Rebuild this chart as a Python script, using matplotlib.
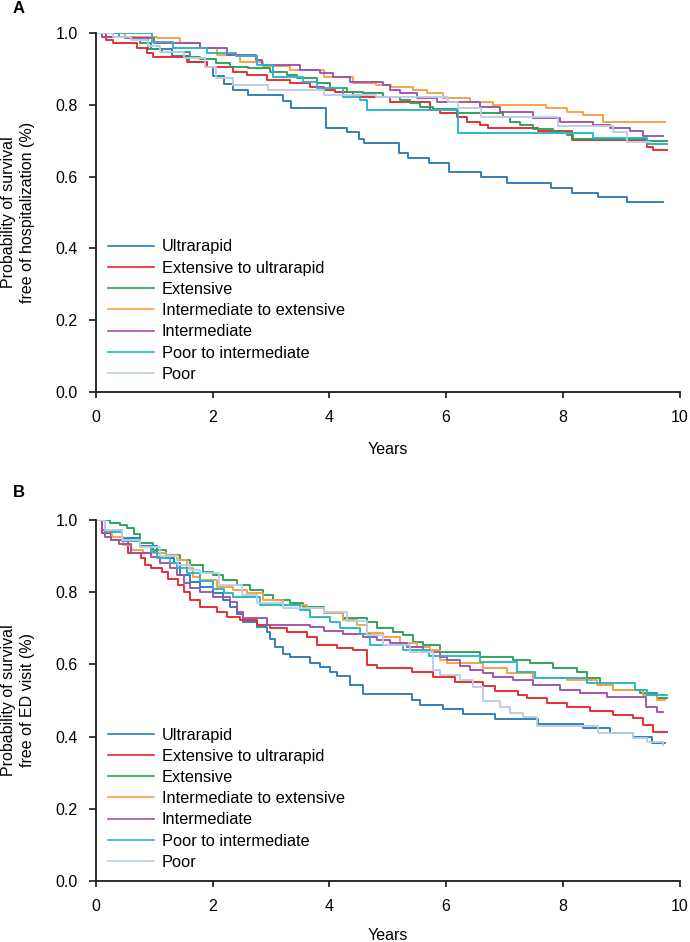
import numpy as np
import matplotlib
matplotlib.use('Agg')
import matplotlib.pyplot as plt

plt.rcParams['font.family'] = ['Liberation Sans', 'DejaVu Sans']

labels = ['Ultrarapid', 'Extensive to ultrarapid', 'Extensive',
          'Intermediate to extensive', 'Intermediate', 'Poor to intermediate', 'Poor']
colors = ['#2b7bba', '#e8282b', '#2ca05a', '#f7a040', '#a050b0', '#26b5c6', '#b9cde8']

# Panel A: survival free of hospitalization
A_ultra_t = [0, 0.1, 0.9, 1.3, 1.6, 1.9, 2.0, 2.2, 2.35, 2.6, 3.2, 3.35, 3.95, 4.3, 4.5, 4.6, 5.2, 5.35, 5.7, 6.05, 6.6, 7.05, 7.8, 8.15, 8.6, 9.1, 9.72]
A_ultra_s = [1.0, 0.99, 0.955, 0.935, 0.92, 0.905, 0.88, 0.857, 0.84, 0.828, 0.81, 0.79, 0.736, 0.725, 0.705, 0.694, 0.667, 0.653, 0.639, 0.614, 0.6, 0.583, 0.569, 0.555, 0.544, 0.528, 0.528]
A_extultra_t = [0, 0.18, 0.3, 0.7, 0.87, 0.98, 1.56, 1.9, 2.35, 2.59, 2.93, 3.32, 3.67, 3.9, 4.1, 4.4, 4.52, 5.04, 5.72, 5.9, 6.18, 6.36, 6.58, 6.72, 7.57, 8.16, 9.44, 9.55, 9.78]
A_extultra_s = [1.0, 0.98, 0.972, 0.958, 0.944, 0.933, 0.92, 0.906, 0.892, 0.883, 0.869, 0.861, 0.85, 0.842, 0.836, 0.828, 0.822, 0.808, 0.786, 0.778, 0.767, 0.753, 0.744, 0.736, 0.728, 0.703, 0.681, 0.675, 0.675]
A_ext_t = [0, 0.4, 0.75, 0.95, 1.13, 1.61, 1.78, 2.05, 2.3, 2.6, 2.98, 3.27, 3.44, 3.79, 4.01, 4.3, 4.58, 4.92, 5.21, 5.38, 5.55, 5.78, 6.19, 6.98, 7.1, 7.27, 7.49, 7.83, 8.07, 8.18, 9.44, 9.78]
A_ext_s = [1.0, 0.99, 0.972, 0.955, 0.947, 0.933, 0.928, 0.917, 0.906, 0.903, 0.892, 0.883, 0.875, 0.861, 0.847, 0.836, 0.833, 0.822, 0.814, 0.806, 0.794, 0.789, 0.778, 0.767, 0.753, 0.744, 0.733, 0.725, 0.717, 0.706, 0.698, 0.698]
A_intext_t = [0, 0.5, 1.05, 1.44, 1.78, 2.07, 2.47, 2.86, 3.32, 3.9, 4.4, 4.8, 5.05, 5.43, 5.67, 5.95, 6.41, 6.8, 7.72, 8.07, 8.35, 8.69, 9.75]
A_intext_s = [1.0, 0.99, 0.986, 0.972, 0.958, 0.939, 0.92, 0.908, 0.897, 0.878, 0.861, 0.856, 0.85, 0.842, 0.833, 0.819, 0.808, 0.8, 0.792, 0.78, 0.772, 0.752, 0.752]
A_int_t = [0, 0.1, 0.5, 1.0, 1.78, 2.24, 2.75, 2.85, 3.5, 3.84, 4.06, 4.35, 4.92, 5.04, 5.21, 5.5, 5.84, 6.58, 6.92, 7.49, 7.95, 8.52, 8.81, 9.15, 9.37, 9.72]
A_int_s = [1.0, 0.99, 0.985, 0.972, 0.958, 0.939, 0.925, 0.911, 0.897, 0.889, 0.878, 0.864, 0.856, 0.842, 0.833, 0.819, 0.808, 0.794, 0.781, 0.764, 0.753, 0.744, 0.736, 0.728, 0.714, 0.714]
A_poorint_t = [0, 0.96, 1.32, 1.9, 2.4, 2.76, 3.04, 3.55, 3.79, 4.23, 4.52, 4.64, 6.2, 8.52, 9.45, 9.78]
A_poorint_s = [1.0, 0.975, 0.958, 0.944, 0.935, 0.911, 0.878, 0.864, 0.847, 0.822, 0.814, 0.786, 0.722, 0.708, 0.69, 0.69]
A_poor_t = [0, 0.3, 0.6, 0.9, 1.1, 1.5, 1.87, 2.05, 2.35, 2.95, 3.9, 4.8, 6.03, 6.2, 6.6, 7.92, 8.86, 9.1, 9.5]
A_poor_s = [1.0, 0.99, 0.98, 0.965, 0.947, 0.93, 0.906, 0.875, 0.856, 0.842, 0.828, 0.822, 0.808, 0.79, 0.767, 0.742, 0.725, 0.697, 0.697]

# Panel B: survival free of ED visit
B_ultra_t = [0, 0.1, 0.44, 0.75, 1.04, 1.2, 1.33, 1.44, 1.61, 1.78, 2.0, 2.18, 2.3, 2.41, 2.52, 2.76, 2.93, 2.98, 3.07, 3.2, 3.32, 3.67, 3.84, 4.01, 4.13, 4.35, 4.58, 5.42, 5.55, 5.95, 6.29, 6.84, 7.58, 8.35, 8.81, 9.2, 9.52, 9.75]
B_ultra_s = [1.0, 0.972, 0.95, 0.928, 0.909, 0.895, 0.88, 0.848, 0.828, 0.814, 0.797, 0.778, 0.759, 0.74, 0.717, 0.704, 0.69, 0.67, 0.648, 0.63, 0.62, 0.603, 0.593, 0.579, 0.568, 0.543, 0.517, 0.501, 0.487, 0.476, 0.463, 0.449, 0.435, 0.424, 0.41, 0.399, 0.382, 0.382]
B_extultra_t = [0, 0.1, 0.25, 0.55, 0.78, 0.84, 0.95, 1.13, 1.24, 1.4, 1.5, 1.61, 1.78, 2.07, 2.24, 2.47, 2.76, 2.98, 3.27, 3.61, 3.79, 4.13, 4.4, 4.64, 4.81, 5.42, 5.78, 6.15, 6.63, 6.84, 7.23, 7.39, 7.73, 8.07, 8.47, 8.86, 9.2, 9.37, 9.55, 9.78]
B_extultra_s = [1.0, 0.964, 0.945, 0.909, 0.895, 0.875, 0.867, 0.856, 0.837, 0.82, 0.8, 0.778, 0.759, 0.745, 0.731, 0.723, 0.709, 0.7, 0.69, 0.676, 0.654, 0.645, 0.64, 0.598, 0.59, 0.579, 0.565, 0.551, 0.54, 0.526, 0.515, 0.507, 0.493, 0.482, 0.471, 0.46, 0.451, 0.432, 0.413, 0.413]
B_ext_t = [0, 0.24, 0.41, 0.53, 0.65, 0.75, 0.98, 1.2, 1.44, 1.61, 1.84, 2.0, 2.18, 2.41, 2.64, 2.86, 3.03, 3.32, 3.55, 3.9, 4.23, 4.64, 4.81, 5.09, 5.26, 5.43, 5.6, 5.9, 6.58, 7.15, 7.44, 7.83, 8.24, 8.41, 8.64, 8.86, 9.32, 9.61, 9.78]
B_ext_s = [1.0, 0.993, 0.985, 0.978, 0.96, 0.936, 0.917, 0.903, 0.889, 0.875, 0.856, 0.848, 0.834, 0.82, 0.806, 0.792, 0.778, 0.77, 0.759, 0.742, 0.728, 0.717, 0.7, 0.69, 0.681, 0.662, 0.654, 0.634, 0.62, 0.612, 0.603, 0.59, 0.579, 0.562, 0.543, 0.529, 0.52, 0.507, 0.507]
B_intext_t = [0, 0.15, 0.28, 0.47, 0.6, 0.8, 1.2, 1.39, 1.56, 1.67, 1.78, 2.07, 2.35, 2.58, 2.86, 3.2, 3.61, 3.9, 4.23, 4.47, 4.64, 4.92, 5.21, 5.5, 5.72, 5.9, 6.01, 6.63, 7.04, 7.49, 8.07, 8.59, 8.86, 9.37, 9.61, 9.75]
B_intext_s = [1.0, 0.972, 0.953, 0.931, 0.917, 0.909, 0.903, 0.889, 0.867, 0.842, 0.834, 0.814, 0.806, 0.797, 0.778, 0.765, 0.756, 0.742, 0.723, 0.709, 0.687, 0.675, 0.659, 0.648, 0.64, 0.612, 0.604, 0.59, 0.576, 0.562, 0.557, 0.543, 0.529, 0.515, 0.501, 0.501]
B_int_t = [0, 0.1, 0.15, 0.25, 0.4, 0.6, 0.95, 1.1, 1.27, 1.39, 1.5, 1.61, 1.78, 2.0, 2.3, 2.41, 2.52, 2.93, 3.67, 3.9, 4.23, 4.58, 4.81, 5.04, 5.33, 5.6, 5.9, 6.01, 6.24, 6.41, 6.63, 6.8, 7.15, 7.49, 7.95, 8.3, 8.76, 9.42, 9.62, 9.72]
B_int_s = [1.0, 0.972, 0.953, 0.945, 0.933, 0.909, 0.898, 0.88, 0.867, 0.848, 0.825, 0.812, 0.801, 0.787, 0.772, 0.745, 0.728, 0.709, 0.703, 0.693, 0.684, 0.676, 0.668, 0.659, 0.648, 0.634, 0.62, 0.612, 0.596, 0.584, 0.576, 0.565, 0.557, 0.543, 0.529, 0.521, 0.51, 0.482, 0.468, 0.468]
B_poorint_t = [0, 0.15, 0.45, 0.75, 0.95, 1.04, 1.27, 1.39, 1.56, 1.78, 2.0, 2.2, 2.35, 2.81, 3.5, 3.67, 4.01, 4.18, 4.52, 4.7, 5.26, 5.7, 6.58, 7.22, 7.52, 8.41, 9.24, 9.44, 9.78]
B_poorint_s = [1.0, 0.967, 0.942, 0.925, 0.91, 0.895, 0.88, 0.867, 0.853, 0.83, 0.81, 0.797, 0.787, 0.765, 0.75, 0.731, 0.717, 0.7, 0.684, 0.654, 0.64, 0.623, 0.607, 0.579, 0.563, 0.548, 0.529, 0.514, 0.514]
B_poor_t = [0, 0.15, 0.45, 0.75, 1.1, 1.4, 1.61, 1.78, 2.1, 2.5, 2.76, 3.2, 3.9, 4.3, 4.64, 4.92, 5.38, 5.78, 5.9, 6.24, 6.46, 6.63, 6.92, 7.1, 7.32, 7.55, 8.6, 9.2, 9.44, 9.72]
B_poor_s = [1.0, 0.972, 0.945, 0.925, 0.9, 0.875, 0.862, 0.853, 0.82, 0.792, 0.77, 0.756, 0.745, 0.72, 0.68, 0.654, 0.634, 0.584, 0.57, 0.557, 0.537, 0.498, 0.482, 0.465, 0.455, 0.429, 0.41, 0.396, 0.385, 0.377]

panel_A = [(A_ultra_t, A_ultra_s), (A_extultra_t, A_extultra_s), (A_ext_t, A_ext_s),
           (A_intext_t, A_intext_s), (A_int_t, A_int_s), (A_poorint_t, A_poorint_s), (A_poor_t, A_poor_s)]
panel_B = [(B_ultra_t, B_ultra_s), (B_extultra_t, B_extultra_s), (B_ext_t, B_ext_s),
           (B_intext_t, B_intext_s), (B_int_t, B_int_s), (B_poorint_t, B_poorint_s), (B_poor_t, B_poor_s)]

FS = 11.5


def draw_panel(ax, curves, ylabel, xpad):
    for (t, s), lab, c in zip(curves, labels, colors):
        ax.step(t, s, where='post', color=c, linewidth=1.35, label=lab)
    ax.set_xlim(0, 10)
    ax.set_ylim(0, 1.0)
    ax.set_xticks([0, 2, 4, 6, 8, 10])
    ax.set_yticks(np.arange(0, 1.01, 0.2))
    ax.set_yticklabels(['{:.1f}'.format(v) for v in np.arange(0, 1.01, 0.2)])
    for side in ['top', 'right']:
        ax.spines[side].set_visible(False)
    for side in ['left', 'bottom']:
        ax.spines[side].set_linewidth(1.3)
        ax.spines[side].set_color('#1a1a1a')
    ax.tick_params(axis='y', length=5, width=1.2, pad=8, labelsize=FS, color='#1a1a1a')
    ax.tick_params(axis='x', length=4, width=1.2, pad=9, labelsize=FS, color='#1a1a1a')
    ax.set_xlabel('Years', fontsize=FS, labelpad=xpad)
    ax.set_ylabel(ylabel, fontsize=FS, labelpad=14.5, linespacing=1.35)
    leg = ax.legend(loc='upper left', bbox_to_anchor=(0.02, 0.425), frameon=False, fontsize=11.8,
                    borderpad=0, borderaxespad=0, handlelength=2.8, handletextpad=0.5,
                    labelspacing=0.38)
    for line in leg.get_lines():
        line.set_linewidth(1.2)


fig = plt.figure(figsize=(6.9, 9.42), dpi=100)
axA = fig.add_axes([0.1391, 0.5839, 0.8457, 0.3811])
axB = fig.add_axes([0.1391, 0.0648, 0.8457, 0.3832])

draw_panel(axA, panel_A, 'Probability of survival\nfree of hospitalization (%)', 12)
draw_panel(axB, panel_B, 'Probability of survival\nfree of ED visit (%)', 10)

fig.text(13 / 690, 1 - 1 / 942, 'A', fontsize=12, fontweight='bold', va='top', ha='left')
fig.text(13 / 690, 1 - 485 / 942, 'B', fontsize=12, fontweight='bold', va='top', ha='left')

fig.savefig('out.png', dpi=100)
